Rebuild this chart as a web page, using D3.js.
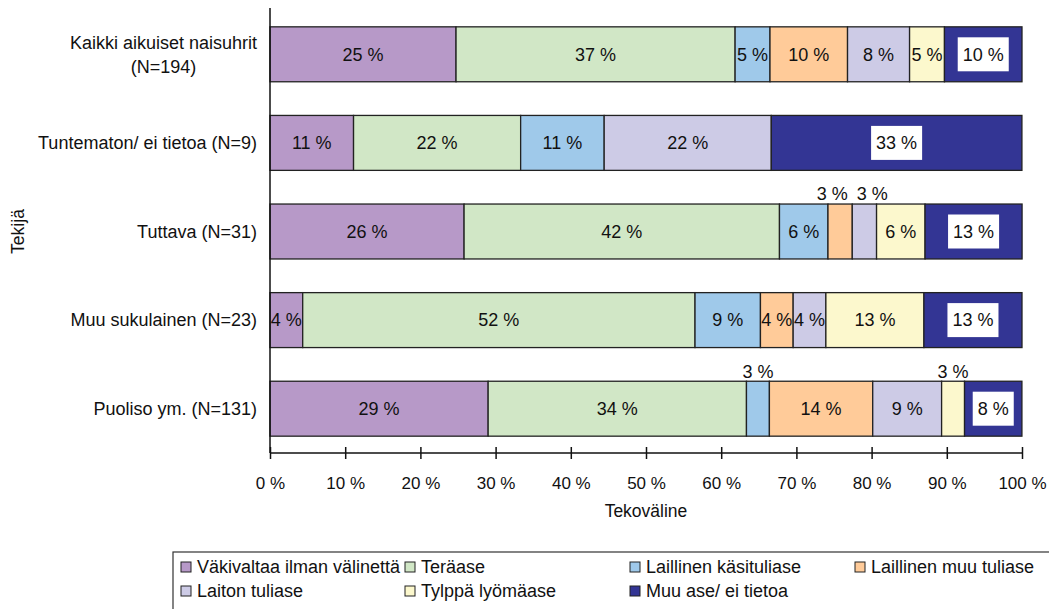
<!DOCTYPE html>
<html>
<head>
<meta charset="utf-8">
<script src="https://cdn.jsdelivr.net/npm/d3@7"></script>
<style>
  body { margin: 0; background: #fff; }
  text { font-family: "Liberation Sans", Arial, sans-serif; fill: #111; }
</style>
</head>
<body>
<script>
// data
const categories = ["Kaikki aikuiset naisuhrit\n(N=194)", "Tuntematon/ ei tietoa (N=9)", "Tuttava (N=31)", "Muu sukulainen (N=23)", "Puoliso ym. (N=131)"];
const seriesNames = ["Väkivaltaa ilman välinettä", "Teräase", "Laillinen käsituliase", "Laillinen muu tuliase", "Laiton tuliase", "Tylppä lyömäase", "Muu ase/ ei tietoa"];
const vakivalta   = [24.74, 11.11, 25.81, 4.35, 29.01];
const teraase     = [37.11, 22.22, 41.94, 52.17, 34.35];
const kasituliase = [4.64, 11.11, 6.45, 8.70, 3.05];
const muuTuliase  = [10.31, 0, 3.23, 4.35, 13.74];
const laiton      = [8.25, 22.22, 3.23, 4.35, 9.16];
const tylppa      = [4.64, 0, 6.45, 13.04, 3.05];
const muuAse      = [10.31, 33.33, 12.90, 13.04, 7.63];
const xTicks = [0, 10, 20, 30, 40, 50, 60, 70, 80, 90, 100];

const colors = ["#B799C8", "#D1E7C6", "#9FC9EA", "#FFCB99", "#CDCBE6", "#FCF8CD", "#333594"];

const w = 1049, h = 609;
const pLeft = 270, pRight = 1022, pTop = 10, pBottom = 453;

const allSeries = [vakivalta, teraase, kasituliase, muuTuliase, laiton, tylppa, muuAse];
const table = categories.map((c, i) => {
  const row = {cat: c};
  seriesNames.forEach((s, j) => row[s] = allSeries[j][i]);
  return row;
});

const svg = d3.select("body").append("svg").attr("width", w).attr("height", h);

const x = d3.scaleLinear().domain([0, 100]).range([pLeft, pRight]);
const y = d3.scaleBand().domain(categories).range([pTop, pBottom]).paddingInner(0.38).paddingOuter(0.19);
const color = d3.scaleOrdinal().domain(seriesNames).range(colors);

const stacked = d3.stack().keys(seriesNames)(table);

// bars
const groups = svg.append("g").selectAll("g").data(stacked).enter().append("g")
  .attr("fill", d => color(d.key));
groups.selectAll("rect").data(d => d.filter(p => p[1] - p[0] > 0)).enter().append("rect")
  .attr("x", d => x(d[0]))
  .attr("y", d => y(d.data.cat))
  .attr("width", d => x(d[1]) - x(d[0]))
  .attr("height", y.bandwidth())
  .attr("stroke", "#222")
  .attr("stroke-width", 1.3);

// value labels
const fmt = v => Math.round(v) + " %";
const labels = svg.append("g").style("font-size", "18px");
categories.forEach(cat => {
  const yc = y(cat) + y.bandwidth() / 2;
  const above = [];
  stacked.forEach((s, j) => {
    const p = s.find(q => q.data.cat === cat);
    const v = p[1] - p[0];
    if (v <= 0) return;
    const cx = x((p[0] + p[1]) / 2);
    if (v < 3.5) {
      above.push({cx: cx, txt: fmt(v)});
      return;
    }
    if (j === seriesNames.length - 1) {
      const t = labels.append("text").attr("x", cx).attr("y", yc).attr("dy", "0.35em")
        .attr("text-anchor", "middle").text(fmt(v));
      const tw = t.node().getComputedTextLength();
      labels.insert("rect", () => t.node())
        .attr("x", cx - tw / 2 - 5).attr("y", yc - 17)
        .attr("width", tw + 10).attr("height", 34).attr("fill", "#fff");
    } else {
      labels.append("text").attr("x", cx).attr("y", yc).attr("dy", "0.35em")
        .attr("text-anchor", "middle").text(fmt(v));
    }
  });
  // spread labels that sit above the bar
  for (let i = 1; i < above.length; i++) {
    const gap = above[i].cx - above[i - 1].cx;
    if (gap < 40) {
      const d = (40 - gap) / 2;
      above[i - 1].cx -= d;
      above[i].cx += d;
    }
  }
  above.forEach(a => {
    labels.append("text").attr("x", a.cx).attr("y", y(cat) - 10).attr("dy", "0.35em")
      .attr("text-anchor", "middle").text(a.txt);
  });
});

// y axis line and category labels
svg.append("line").attr("x1", pLeft).attr("x2", pLeft).attr("y1", 8).attr("y2", pBottom)
  .attr("stroke", "#111").attr("stroke-width", 1.5);

const catG = svg.append("g").style("font-size", "18px");
categories.forEach(cat => {
  const lines = cat.split("\n");
  const yc = y(cat) + y.bandwidth() / 2;
  const t = catG.append("text").attr("text-anchor", "middle");
  lines.forEach((l, i) => {
    t.append("tspan").attr("x", 0).attr("y", yc + (i - (lines.length - 1) / 2) * 24)
      .attr("dy", "0.35em").text(l);
  });
  const bw = t.node().getBBox().width;
  t.selectAll("tspan").attr("x", 257 - bw / 2);
});

// x axis
const xAxis = d3.axisBottom(x).tickValues(xTicks).tickFormat(d => d + " %").tickSize(6).tickPadding(18);
const ax = svg.append("g").attr("transform", "translate(0," + pBottom + ")").call(xAxis);
ax.select(".domain").attr("stroke", "#111").attr("stroke-width", 1.5).attr("d", "M" + pLeft + ",0H" + pRight);
ax.selectAll(".tick line").attr("y1", -6).attr("y2", 6).attr("stroke", "#111").attr("stroke-width", 1.5);
ax.selectAll(".tick text").style("font-size", "17px").style("font-family", "Liberation Sans, Arial, sans-serif").attr("fill", "#111");

// axis titles
svg.append("text").attr("x", (pLeft + pRight) / 2).attr("y", 517).attr("text-anchor", "middle")
  .style("font-size", "17.5px").text("Tekoväline");
svg.append("text").attr("transform", "translate(24," + (pTop + pBottom) / 2 + ") rotate(-90)")
  .attr("text-anchor", "middle").style("font-size", "17.5px").text("Tekijä");

// legend
const lg = svg.append("g");
lg.append("rect").attr("x", 173).attr("y", 552).attr("width", 900).attr("height", 80)
  .attr("fill", "none").attr("stroke", "#333").attr("stroke-width", 1.2);
const legX = [181, 405, 630, 855];
const legY = [567, 591];
seriesNames.forEach((s, i) => {
  const lx = legX[i % 4], ly = legY[Math.floor(i / 4)];
  lg.append("rect").attr("x", lx).attr("y", ly - 5).attr("width", 10).attr("height", 10)
    .attr("fill", color(s)).attr("stroke", "#222").attr("stroke-width", 1);
  lg.append("text").attr("x", lx + 16).attr("y", ly).attr("dy", "0.35em")
    .style("font-size", "18px").text(s);
});
</script>
</body>
</html>
